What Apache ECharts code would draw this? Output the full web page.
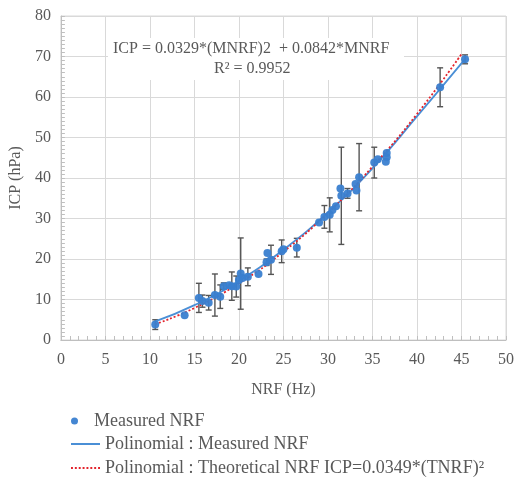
<!DOCTYPE html>
<html>
<head>
<meta charset="utf-8">
<script src="https://cdn.jsdelivr.net/npm/echarts@6/dist/echarts.min.js"></script>
<style>
  html, body { margin: 0; padding: 0; background: #fff; }
  #container { width: 517px; height: 479px; }
</style>
</head>
<body>
<div id="container"></div>
<script>
// measured points
let nrfHz = [10.6, 13.9, 15.5, 15.9, 16.6, 17.3, 17.9, 18.3, 18.9, 19.2, 19.7, 20.0, 20.2, 20.4, 21.0,
  22.2, 23.1, 23.2, 23.6, 24.8, 25.0, 26.5, 29.0, 29.6, 30.2, 30.5, 30.9, 31.4, 31.5, 32.2,
  33.1, 33.2, 33.5, 35.2, 35.6, 36.6, 36.6, 36.5, 42.6, 45.4];
let icpHpa = [3.8, 6.1, 10.4, 9.6, 9.2, 11.1, 10.7, 13.3, 13.5, 13.3, 13.2, 14.8, 16.4, 15.3, 15.6,
  16.3, 19.2, 21.5, 19.8, 21.9, 22.4, 22.8, 29.0, 30.4, 30.9, 32.1, 33.0, 37.4, 35.6, 36.2,
  38.5, 36.9, 40.2, 43.8, 44.6, 46.2, 45.1, 44.0, 62.4, 69.3];
// half length of each error bar (0 = no bar)
let icpErr = [1.2, 0, 3.6, 1.5, 1.8, 5.2, 2.9, 0.8, 0, 3.5, 2.6, 0, 8.8, 0, 2.2,
  0, 0.8, 0, 3.6, 2.8, 0, 2.3, 0, 2.8, 4.2, 0, 0, 0, 12.0, 1.2,
  0, 0, 8.3, 3.8, 0, 0, 0, 0, 4.8, 1.1];

// trend lines
let fitX = [10.6, 15, 20, 25, 30, 35, 40, 45.3];
let fitMeasured = [4.6, 8.6, 14.6, 22.3, 31.5, 42.4, 55.2, 69.1];
let theoX = [10.6, 15, 20, 25, 30, 35, 40, 45];
let fitTheoretical = [3.9, 7.9, 14.0, 21.8, 31.4, 42.8, 55.8, 70.6];

let xTicks = [0, 5, 10, 15, 20, 25, 30, 35, 40, 45, 50];
let yTicks = [0, 10, 20, 30, 40, 50, 60, 70, 80];

let points = nrfHz.map((x, i) => [x, icpHpa[i]]);
let bars = nrfHz.map((x, i) => [x, icpHpa[i] - icpErr[i], icpHpa[i] + icpErr[i]]).filter((d, i) => icpErr[i] > 0);

let font = "'Liberation Serif', 'Times New Roman', serif";
let txt = "#595959";
let blue = "#4a8fd6";
let red = "#e3232c";

let nameMeasured = "Measured NRF";
let nameFit = "Polinomial : Measured NRF";
let nameTheo = "Polinomial : Theoretical NRF ICP=0.0349*(TNRF)²";

function legendAt(top, name, icon, h) {
  return {
    orient: "vertical",
    left: 66,
    top: top,
    itemWidth: 29,
    itemHeight: h,
    textStyle: { fontFamily: font, fontSize: 18, color: txt },
    data: [{ name: name, icon: icon }],
  };
}

let dom = document.getElementById("container");
let myChart = echarts.init(dom, null, { renderer: "canvas" });

let option = {
  animation: false,
  textStyle: { fontFamily: font, color: txt },
  grid: { left: 60, right: 8, top: 16, bottom: 139, show: true, borderColor: "#d9d9d9", borderWidth: 1 },
  xAxis: {
    type: "value",
    min: xTicks[0],
    max: xTicks[xTicks.length - 1],
    interval: 5,
    name: "NRF (Hz)",
    nameLocation: "middle",
    nameGap: 42,
    nameTextStyle: { fontFamily: font, fontSize: 16, color: txt },
    axisLine: { lineStyle: { color: "#bfbfbf" } },
    axisTick: { show: true, inside: true, length: 4, lineStyle: { color: "#bfbfbf" } },
    minorTick: { show: true, splitNumber: 5, length: 4, lineStyle: { color: "#bfbfbf" } },
    axisLabel: { fontFamily: font, fontSize: 16, color: txt, margin: 12 },
    splitLine: { lineStyle: { color: "#d9d9d9" } },
  },
  yAxis: {
    type: "value",
    min: yTicks[0],
    max: yTicks[yTicks.length - 1],
    interval: 10,
    name: "ICP (hPa)",
    nameLocation: "middle",
    nameGap: 33,
    nameTextStyle: { fontFamily: font, fontSize: 16, color: txt },
    axisLine: { show: true, lineStyle: { color: "#bfbfbf" } },
    axisTick: { show: true, inside: true, length: 4, lineStyle: { color: "#bfbfbf" } },
    minorTick: { show: true, splitNumber: 10, length: 4, lineStyle: { color: "#bfbfbf" } },
    axisLabel: { fontFamily: font, fontSize: 16, color: txt, margin: 10 },
    splitLine: { lineStyle: { color: "#d9d9d9" } },
  },
  legend: [
    legendAt(407, nameMeasured, "circle", 7),
    legendAt(430, nameFit, "rect", 2),
    legendAt(454, nameTheo, "path://M0,0h2v2h-2zM4,0h2v2h-2zM8,0h2v2h-2zM12,0h2v2h-2zM16,0h2v2h-2zM20,0h2v2h-2zM24,0h2v2h-2zM28,0h2v2h-2z", 2),
  ],
  graphic: [
    {
      type: "rect",
      left: 108,
      top: 38,
      shape: { width: 296, height: 42 },
      style: { fill: "#fff" },
      z: 10,
    },
    {
      type: "text",
      left: 113,
      top: 41,
      style: { text: "ICP = 0.0329*(MNRF)2  + 0.0842*MNRF", fontFamily: font, fontSize: 16, fill: txt },
      z: 11,
    },
    {
      type: "text",
      left: 214,
      top: 61,
      style: { text: "R² = 0.9952", fontFamily: font, fontSize: 16, fill: txt },
      z: 11,
    },
  ],
  series: [
    {
      name: nameFit,
      type: "line",
      smooth: true,
      showSymbol: false,
      symbol: "none",
      data: fitX.map((x, i) => [x, fitMeasured[i]]),
      lineStyle: { color: blue, width: 1.8 },
      itemStyle: { color: blue },
      z: 4,
    },
    {
      name: nameTheo,
      type: "line",
      smooth: true,
      showSymbol: false,
      symbol: "none",
      data: theoX.map((x, i) => [x, fitTheoretical[i]]),
      lineStyle: { color: red, width: 1.8, type: [2, 2] },
      itemStyle: { color: red },
      z: 5,
    },
    {
      name: "errors",
      type: "custom",
      data: bars,
      z: 3,
      renderItem: (params, api) => {
        let lo = api.coord([api.value(0), api.value(1)]);
        let hi = api.coord([api.value(0), api.value(2)]);
        let cap = 3;
        let st = { stroke: "#555", lineWidth: 1.4 };
        return {
          type: "group",
          children: [
            { type: "line", shape: { x1: lo[0], y1: lo[1], x2: hi[0], y2: hi[1] }, style: st },
            { type: "line", shape: { x1: lo[0] - cap, y1: lo[1], x2: lo[0] + cap, y2: lo[1] }, style: st },
            { type: "line", shape: { x1: hi[0] - cap, y1: hi[1], x2: hi[0] + cap, y2: hi[1] }, style: st },
          ],
        };
      },
    },
    {
      name: nameMeasured,
      type: "scatter",
      data: points,
      symbolSize: 8,
      itemStyle: { color: "#3a7fd0", opacity: 0.95 },
      z: 6,
    },
  ],
};

myChart.setOption(option);
window.addEventListener("resize", myChart.resize);
</script>
</body>
</html>
